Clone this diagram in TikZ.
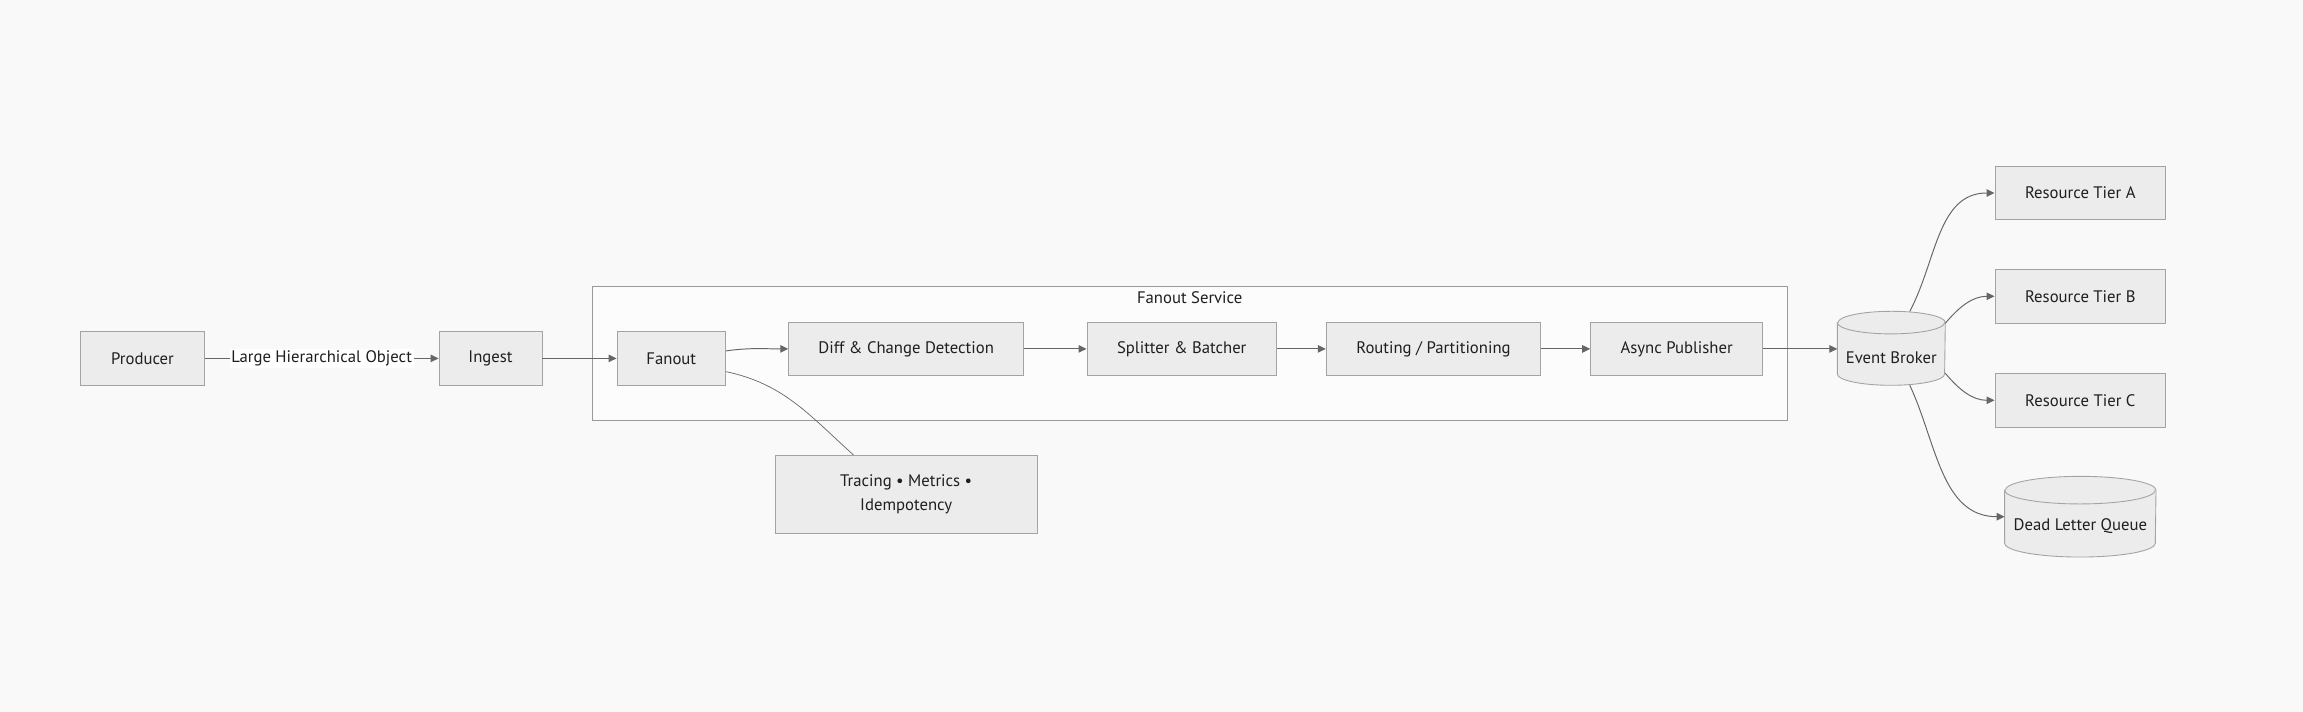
\documentclass[tikz,border=0pt]{standalone}
\usepackage{fontspec}
\setmainfont{PT Sans}
\usetikzlibrary{arrows.meta}
\definecolor{pagebg}{HTML}{F9F9F9}
\definecolor{boxfill}{HTML}{ECECEC}
\definecolor{boxline}{HTML}{A3A3A3}
\definecolor{groupfill}{HTML}{FCFCFC}
\definecolor{groupline}{HTML}{9A9A9A}
\definecolor{linkgrey}{HTML}{666666}
\definecolor{textgrey}{HTML}{1F1F1F}
% cylinder drawn round a named node: #1 node, #2 x radius, #3 y radius
\newcommand{\drawstore}[3]{%
  \draw[storeline] ([yshift=-#3]#1.north west) -- ([yshift=#3]#1.south west)
    arc[start angle=180, end angle=360, x radius=#2, y radius=#3]
    -- ([yshift=-#3]#1.north east)
    arc[start angle=0, end angle=180, x radius=#2, y radius=#3] -- cycle;
  \draw[storeline] ([yshift=-#3]#1.north west)
    arc[start angle=180, end angle=360, x radius=#2, y radius=#3];}

\begin{document}
\begin{tikzpicture}[x=1cm, y=1cm,
  every node/.style={font=\fontsize{9.5}{13.4}\selectfont, text=textgrey},
  box/.style={draw=boxline, fill=boxfill, line width=0.5pt, inner sep=0pt, minimum height=1.07cm},
  store/.style={inner sep=0pt},
  storeline/.style={draw=boxline, fill=boxfill, line width=0.5pt},
  link/.style={draw=linkgrey, line width=0.55pt, -{Triangle[length=0.16cm, width=0.15cm]}},
  plainlink/.style={draw=linkgrey, line width=0.4pt}]
\useasboundingbox (0,0) rectangle (46.06,-14.24);
\fill[pagebg] (0,0) rectangle (46.06,-14.24);
% --- Fanout Service group ---
\draw[groupline, fill=groupfill, line width=0.5pt] (11.840,-5.728) rectangle (35.752,-8.400);
\node (title) at (23.794,-5.960) {Fanout Service};
% --- boxes ---
\node[box, minimum width=2.468cm] (producer) at (2.850,-7.168) {Producer};
\node[box, minimum width=2.060cm] (ingest) at (9.810,-7.168) {Ingest};
\node[box, minimum width=2.172cm] (fanout) at (13.426,-7.168) {Fanout};
\node[box, minimum width=4.700cm] (diff) at (18.124,-6.978) {Diff \& Change Detection};
\node[box, minimum width=3.788cm] (splitter) at (23.634,-6.978) {Splitter \& Batcher};
\node[box, minimum width=4.290cm] (routing) at (28.670,-6.978) {Routing / Partitioning};
\node[box, minimum width=3.438cm] (publisher) at (33.532,-6.978) {Async Publisher};
\node[box, minimum width=5.230cm, minimum height=1.558cm, align=center] (tracing) at (18.124,-9.886) {Tracing • Metrics •\\Idempotency};
\node[box, minimum width=3.414cm] (tiera) at (41.606,-3.860) {Resource Tier A};
\node[box, minimum width=3.414cm] (tierb) at (41.606,-5.926) {Resource Tier B};
\node[box, minimum width=3.414cm] (tierc) at (41.606,-8.006) {Resource Tier C};
% --- stores ---
\node[store, minimum width=2.146cm, minimum height=1.466cm] (broker) at (37.826,-6.966) {};
\drawstore{broker}{1.073cm}{0.226cm}
\node (brokertext) at (37.826,-7.150) {Event Broker};
\node[store, minimum width=3.014cm, minimum height=1.600cm] (dlq) at (41.606,-10.334) {};
\drawstore{dlq}{1.507cm}{0.276cm}
\node (dlqtext) at (41.606,-10.516) {Dead Letter Queue};
% --- links ---
\draw[link] (producer) -- node[fill=white, inner sep=1pt] (payload) {Large Hierarchical Object} (ingest);
\draw[link] (ingest) -- (fanout);
\draw[link] ([yshift=0.15cm]fanout.east) to[out=8, in=180] (diff.west);
\draw[plainlink] ([yshift=-0.265cm]fanout.east) to[out=-12, in=138] ([xshift=-1.056cm]tracing.north);
\draw[link] (diff) -- (splitter);
\draw[link] (splitter) -- (routing);
\draw[link] (routing) -- (publisher);
\draw[link] (publisher.east) -- (broker.west |- publisher.east);
\draw[link] ([xshift=0.37cm]broker.north) to[out=62, in=180] (tiera.west);
\draw[link] ([yshift=0.5cm]broker.east) to[out=50, in=180] (tierb.west);
\draw[link] ([yshift=-0.5cm]broker.east) to[out=-50, in=180] (tierc.west);
\draw[link] ([xshift=0.37cm]broker.south) to[out=-65, in=180] (dlq.west);
\end{tikzpicture}
\end{document}
